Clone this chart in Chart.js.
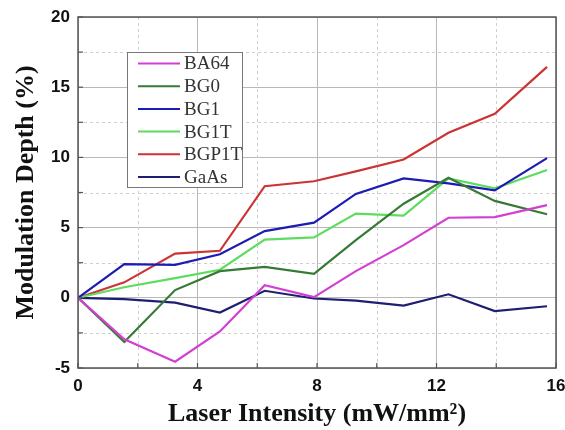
<!DOCTYPE html>
<html>
<head>
<meta charset="utf-8">
<script src="https://cdn.jsdelivr.net/npm/chart.js@4"></script>
<style>
  html, body { margin: 0; padding: 0; background: #fff; }
  #wrap { width: 565px; height: 430px; }
</style>
</head>
<body>
<div id="wrap"><canvas id="depthChart"></canvas></div>
<script>
// Modulation depth vs laser intensity

const intensity = [0, 1.55, 3.25, 4.75, 6.25, 7.9, 9.3, 10.9, 12.4, 13.95, 15.7];

const ba64  = [0, -2.95, -4.55, -2.4, 0.9, 0.05, 1.9, 3.75, 5.7, 5.75, 6.6];
const bg0   = [0, -3.15, 0.55, 1.9, 2.2, 1.7, 4.1, 6.7, 8.55, 6.9, 5.95];
const bg1   = [0, 2.4, 2.35, 3.1, 4.75, 5.35, 7.4, 8.5, 8.15, 7.65, 9.95];
const bg1t  = [0, 0.75, 1.4, 2.0, 4.15, 4.3, 6.0, 5.85, 8.5, 7.8, 9.1];
const bgp1t = [0, 1.1, 3.15, 3.35, 7.95, 8.3, 9.0, 9.85, 11.75, 13.1, 16.45];
const gaas  = [0, -0.1, -0.35, -1.05, 0.5, -0.05, -0.2, -0.55, 0.25, -0.95, -0.6];

const xTicks = [0, 4, 8, 12, 16];
const yTicks = [-5, 0, 5, 10, 15, 20];
const xMinor = [2, 6, 10, 14];
const yMinor = [-2.5, 2.5, 7.5, 12.5, 17.5];

const serif = '"Liberation Serif", "Times New Roman", serif';
const sans = '"Liberation Sans", Arial, sans-serif';

function pts(values) {
    return values.map((v, i) => ({ x: intensity[i], y: v }));
}

function line(label, values, color) {
    return {
        label: label,
        data: pts(values),
        borderColor: color,
        backgroundColor: color,
        borderWidth: 2.2,
        pointRadius: 0,
        tension: 0,
        fill: false
    };
}

// dashed minor grid, frame, inward ticks
const framePlugin = {
    id: 'frame',
    beforeDatasetsDraw(chart) {
        const { ctx, chartArea: a, scales: { x, y } } = chart;
        ctx.save();
        ctx.strokeStyle = '#cfcfcf';
        ctx.lineWidth = 1;
        ctx.setLineDash([3, 3]);
        xMinor.forEach(v => {
            const px = Math.round(x.getPixelForValue(v)) + 0.5;
            ctx.beginPath(); ctx.moveTo(px, a.top); ctx.lineTo(px, a.bottom); ctx.stroke();
        });
        yMinor.forEach(v => {
            const py = Math.round(y.getPixelForValue(v)) + 0.5;
            ctx.beginPath(); ctx.moveTo(a.left, py); ctx.lineTo(a.right, py); ctx.stroke();
        });
        ctx.restore();
    },
    afterDatasetsDraw(chart) {
        const { ctx, chartArea: a, scales: { x, y } } = chart;
        ctx.save();
        ctx.strokeStyle = '#555';
        ctx.lineWidth = 1.5;
        ctx.strokeRect(a.left, a.top, a.right - a.left, a.bottom - a.top);
        ctx.lineWidth = 1.2;
        xTicks.concat(xMinor).forEach(v => {
            const px = x.getPixelForValue(v);
            ctx.beginPath(); ctx.moveTo(px, a.bottom); ctx.lineTo(px, a.bottom - 5); ctx.stroke();
        });
        yTicks.concat(yMinor).forEach(v => {
            const py = y.getPixelForValue(v);
            ctx.beginPath(); ctx.moveTo(a.left, py); ctx.lineTo(a.left + 5, py); ctx.stroke();
        });
        ctx.restore();
    },
    afterDraw(chart) {
        // legend box inside plot
        const ctx = chart.ctx;
        const bx = 127, by = 52, bw = 115, bh = 135;
        ctx.save();
        ctx.fillStyle = '#fff';
        ctx.fillRect(bx, by, bw, bh);
        ctx.strokeStyle = '#777';
        ctx.lineWidth = 1;
        ctx.strokeRect(bx + 0.5, by + 0.5, bw, bh);
        ctx.font = '19px ' + serif;
        ctx.textBaseline = 'middle';
        chart.data.datasets.forEach((ds, i) => {
            const ly = by + 11.5 + i * 22.7;
            ctx.strokeStyle = ds.borderColor;
            ctx.lineWidth = 2;
            ctx.beginPath(); ctx.moveTo(138, ly); ctx.lineTo(180, ly); ctx.stroke();
            ctx.fillStyle = '#333';
            ctx.fillText(ds.label, 184, ly + 1);
        });
        ctx.restore();
    }
};

const ctx = document.getElementById('depthChart');
new Chart(ctx, {
    type: 'line',
    data: {
        datasets: [
            line('BA64', ba64, '#d23fd2'),
            line('BG0', bg0, '#357a35'),
            line('BG1', bg1, '#1c1cb4'),
            line('BG1T', bg1t, '#5edc5e'),
            line('BGP1T', bgp1t, '#cc3333'),
            line('GaAs', gaas, '#1e1e72')
        ]
    },
    options: {
        responsive: true,
        maintainAspectRatio: false,
        animation: false,
        layout: { padding: { top: 17, right: 9, bottom: 0, left: 0 } },
        plugins: {
            legend: { display: false },
            tooltip: { enabled: false }
        },
        scales: {
            x: {
                type: 'linear',
                min: 0,
                max: 16,
                afterFit: (s) => { s.height = 62; s.paddingLeft = 0; s.paddingRight = 0; },
                afterBuildTicks: (s) => { s.ticks = xTicks.map(v => ({ value: v })); },
                ticks: {
                    color: '#111',
                    padding: 8,
                    maxRotation: 0,
                    font: { family: sans, size: 17, weight: 'bold' }
                },
                grid: { color: '#b8b8b8', lineWidth: 1, drawTicks: false },
                border: { display: false },
                title: {
                    display: true,
                    text: 'Laser Intensity (mW/mm²)',
                    color: '#111',
                    padding: { top: 0, bottom: 0 },
                    font: { family: serif, size: 26, weight: 'bold' }
                }
            },
            y: {
                min: -5,
                max: 20,
                afterFit: (s) => { s.width = 78; s.paddingTop = 0; s.paddingBottom = 0; },
                afterBuildTicks: (s) => { s.ticks = yTicks.map(v => ({ value: v })); },
                ticks: {
                    color: '#111',
                    padding: 8,
                    font: { family: sans, size: 17, weight: 'bold' }
                },
                grid: { color: '#b8b8b8', lineWidth: 1, drawTicks: false },
                border: { display: false },
                title: {
                    display: true,
                    text: 'Modulation Depth (%)',
                    color: '#111',
                    padding: { top: 11, bottom: 0 },
                    font: { family: serif, size: 26, weight: 'bold' }
                }
            }
        }
    },
    plugins: [framePlugin]
});
</script>
</body>
</html>
